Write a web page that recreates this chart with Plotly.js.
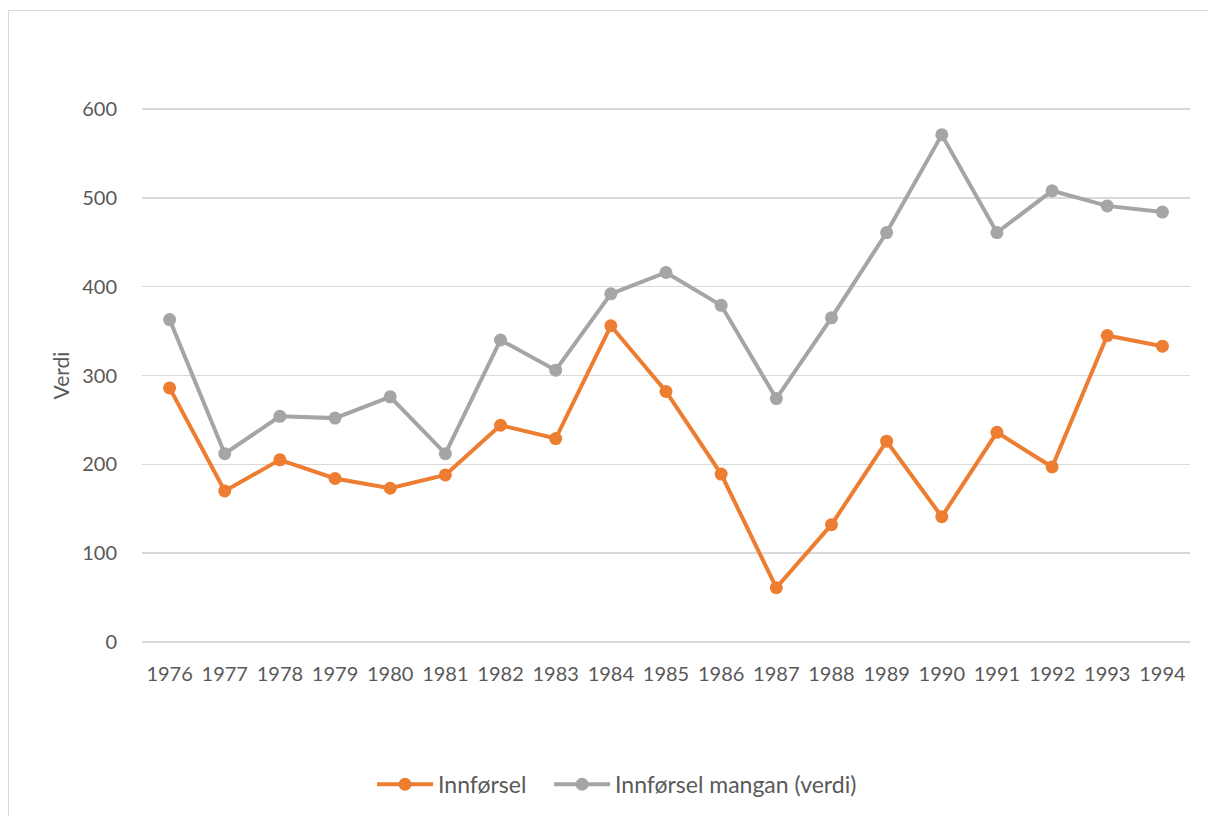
<!DOCTYPE html>
<html>
<head>
<meta charset="utf-8">
<script src="https://cdn.plot.ly/plotly-3.0.1.min.js"></script>
<style>
  html, body { margin: 0; padding: 0; background: #fff; }
  #wrap { position: relative; width: 1208px; height: 816px; overflow: hidden; }
  #chart { width: 1208px; height: 816px; }
  #frame { position: absolute; left: 8px; top: 10px; width: 1220px; height: 830px; border: 1.5px solid #D9D9D9; pointer-events: none; box-sizing: border-box; }
</style>
</head>
<body>
<div id="wrap">
  <div id="chart"></div>
  <div id="frame"></div>
</div>
<script>
const years = ["1976","1977","1978","1979","1980","1981","1982","1983","1984","1985","1986","1987","1988","1989","1990","1991","1992","1993","1994"];
const innforsel = [286, 170, 205, 184, 173, 188, 244, 229, 356, 282, 189, 61, 132, 226, 141, 236, 197, 345, 333];
const innforselMangan = [363, 212, 254, 252, 276, 212, 340, 306, 392, 416, 379, 274, 365, 461, 571, 461, 508, 491, 484];
const seriesNames = ["Innførsel", "Innførsel mangan (verdi)"];
const yTicks = [0, 100, 200, 300, 400, 500, 600];

const fontFam = "Lato, 'Open Sans', 'Liberation Sans', sans-serif";
const textColor = "#595959";

const traces = [
  {
    x: years, y: innforsel, name: seriesNames[0], type: "scatter", mode: "lines+markers",
    line: { color: "#ED7D31", width: 4 },
    marker: { color: "#ED7D31", size: 13 },
    legend: "legend"
  },
  {
    x: years, y: innforselMangan, name: seriesNames[1], type: "scatter", mode: "lines+markers",
    line: { color: "#A5A5A5", width: 4 },
    marker: { color: "#A5A5A5", size: 13 },
    legend: "legend2"
  }
];

const legendBase = {
  orientation: "h", xanchor: "left", y: -0.208, yanchor: "top",
  font: { family: fontFam, size: 23, color: textColor },
  itemwidth: 56, bgcolor: "rgba(0,0,0,0)"
};

const layout = {
  width: 1208, height: 816,
  paper_bgcolor: "#fff", plot_bgcolor: "#fff",
  margin: { l: 142, r: 18, t: 102, b: 167, autoexpand: false },
  font: { family: fontFam, size: 20, color: textColor },
  showlegend: true,
  legend: Object.assign({}, legendBase, { x: 0.2195 }),
  legend2: Object.assign({}, legendBase, { x: 0.3884 }),
  xaxis: {
    type: "category", range: [-0.5, 18.5], showgrid: false, zeroline: false,
    showline: false, ticks: "", ticklabelstandoff: 11,
    tickfont: { family: fontFam, size: 20, color: textColor }
  },
  yaxis: {
    range: [-8, 608], tickvals: yTicks, ticktext: yTicks.map(String),
    showgrid: true, gridcolor: "#D9D9D9", gridwidth: 1.5, zeroline: false, showline: false,
    ticks: "", ticklabelstandoff: 24,
    tickfont: { family: fontFam, size: 20, color: textColor },
    title: { text: "Verdi", font: { family: fontFam, size: 21, color: textColor }, standoff: 6 }
  }
};

Plotly.newPlot("chart", traces, layout, { displayModeBar: false, staticPlot: true });
</script>
</body>
</html>
